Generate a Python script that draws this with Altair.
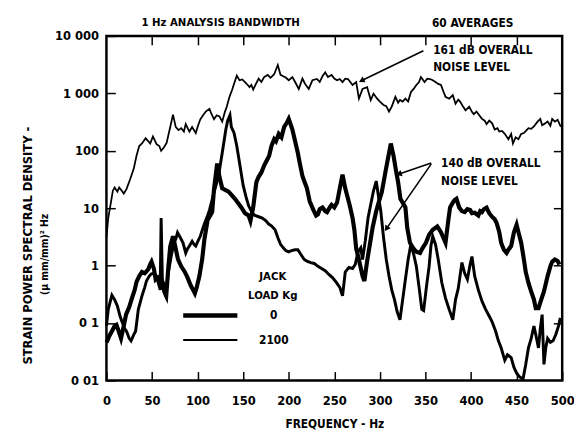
import math
import altair as alt
import pandas as pd

# ---------------- data ----------------
freq_161 = [0, 2, 4, 7, 9, 12, 14, 17, 19, 22, 26, 30, 33, 36, 39, 43, 46, 48, 51, 55,
            58, 60, 63, 66, 70, 73, 76, 79, 82, 85, 87, 91, 94, 98, 100, 103, 106, 109, 113, 115,
            118, 121, 124, 127, 130, 132, 135, 138, 141, 143, 146, 149, 152, 155, 157, 159, 161, 164, 167, 170,
            173, 177, 180, 184, 188, 191, 194, 197, 200, 204, 207, 211, 215, 218, 222, 226, 231, 234, 237, 240,
            243, 247, 250, 253, 256, 259, 262, 265, 270, 274, 277, 281, 286, 290, 293, 297, 300, 304, 307, 310,
            313, 317, 320, 322, 325, 328, 331, 334, 337, 340, 343, 345, 349, 352, 355, 358, 361, 364, 367, 370,
            372, 376, 380, 383, 386, 388, 391, 394, 398, 401, 403, 406, 409, 412, 415, 417, 420, 423, 426, 429,
            431, 434, 437, 441, 444, 446, 449, 452, 455, 458, 461, 463, 466, 469, 473, 476, 478, 480, 484, 487,
            489, 492, 495, 498, 500]
psd_161 = [3.1, 6.8, 10.3, 20, 23, 19.4, 23, 20, 18, 21.5, 32, 49, 82, 121, 134, 165, 146, 134, 178, 130,
           121, 100, 114, 137, 260, 427, 260, 229, 248, 216, 291, 216, 260, 204, 260, 353, 415, 482, 537, 446,
           353, 415, 396, 322, 476, 586, 868, 1165, 1633, 2039, 1691, 1750, 1575, 1400, 1282, 1400, 1165, 1458, 1807, 1575,
           1923, 2097, 1865, 2154, 3125, 2097, 1981, 1865, 1691, 1923, 1575, 1194, 1807, 1458, 1194, 1691, 1778, 1575, 1981, 2326,
           1923, 2097, 1807, 1691, 1778, 1575, 1807, 1778, 1400, 1575, 808, 1194, 1282, 766, 987, 808, 718, 628, 598, 482,
           586, 868, 688, 766, 718, 808, 718, 1046, 1194, 1400, 1575, 1923, 1575, 1807, 1778, 1691, 1575, 1458, 1400, 1046,
           868, 808, 928, 658, 778, 718, 598, 507, 586, 476, 433, 482, 415, 359, 335, 291, 335, 304, 235, 248,
           216, 222, 197, 159, 197, 134, 172, 159, 197, 204, 229, 248, 241, 266, 322, 359, 279, 291, 322, 272,
           359, 322, 347, 272, 260]

freq_0 = [0, 2, 6, 9, 12, 15, 17, 20, 22, 25, 27, 30, 32, 35, 39, 42, 44, 47, 49, 52,
          55, 57, 59, 60, 61.5, 63, 65, 68, 71, 74, 76, 78, 81, 84, 87, 89, 91, 94, 96, 98,
          101, 103, 106, 108, 111, 113, 118, 123, 127, 131, 133, 135.5, 137, 140, 143, 146, 150, 153, 156, 160,
          163, 167, 171, 175, 178, 181, 185, 188, 191, 194, 197, 200, 203, 207, 210, 213, 217, 220, 224, 228,
          232, 236, 240, 244, 248, 252, 256, 259, 262, 266, 270, 273, 276, 279, 281, 284, 287, 290, 293, 296,
          298, 301, 304, 307, 310, 313, 316, 319, 322, 325, 328, 331, 334, 337, 340, 343, 346, 348, 351, 354,
          356, 358, 361, 364, 368, 372, 376, 380, 383, 386, 390, 393, 396, 399, 401, 404, 408, 412, 416, 420,
          423, 427, 430, 433, 437, 440, 444, 447, 450, 453, 457, 460, 463, 466, 469, 471, 474, 476, 478, 480,
          482, 484, 487, 490, 493, 496, 498]
psd_0 = [0.089, 0.173, 0.305, 0.256, 0.198, 0.131, 0.106, 0.08, 0.072, 0.054, 0.049, 0.063, 0.072, 0.173, 0.297, 0.418, 0.546, 0.657, 0.712, 0.736,
         0.657, 0.498, 0.378, 6.75, 0.418, 0.354, 0.297, 0.775, 1.44, 2.5, 2.87, 3.76, 3.09, 2.5, 1.66, 1.97, 2.19, 2.65, 2.35, 2.19,
         2.8, 3.24, 4.57, 5.66, 7.47, 9.26, 18.7, 36.5, 91.4, 235, 335, 415, 260, 204, 121, 61.9, 24.9, 16, 11, 8.2,
         7.47, 7.1, 6.75, 6.03, 5.3, 4.93, 4.2, 3.09, 2.35, 2.04, 1.82, 1.74, 1.82, 1.89, 1.89, 1.59, 1.28, 1.2, 1.13, 1.09,
         0.97, 0.89, 0.815, 0.7, 0.62, 0.514, 0.418, 0.297, 0.775, 0.93, 0.89, 1.05, 1.74, 2.04, 1.28, 2.72, 6.75, 11.7, 20.1, 29.7,
         18, 8.9, 3.09, 1.28, 0.657, 0.378, 0.256, 0.156, 0.114, 0.256, 0.578, 1.28, 2.35, 1.59, 0.97, 0.418, 0.173, 0.165, 0.418, 0.97,
         2.19, 3.24, 2.35, 1.28, 0.498, 0.272, 0.173, 0.114, 0.256, 0.402, 1.13, 0.736, 0.578, 1.05, 1.44, 0.657, 0.378, 0.24, 0.173, 0.131,
         0.106, 0.072, 0.049, 0.037, 0.0225, 0.028, 0.025, 0.017, 0.0134, 0.0116, 0.0106, 0.019, 0.037, 0.054, 0.089, 0.063, 0.037, 0.08, 0.14, 0.019,
         0.037, 0.054, 0.046, 0.049, 0.063, 0.089, 0.123]

freq_2100 = [0, 1, 3, 6, 9, 11, 13, 16, 19, 21.5, 25, 28, 31, 33, 36, 39, 42, 46, 48, 49.5,
             52, 54, 56, 59, 62, 64, 65.6, 68, 70, 73, 75, 78.5, 82, 86, 89, 92.5, 95, 97, 99, 102,
             105, 107.5, 111, 116, 118, 121.5, 124, 127, 134, 141, 148, 152, 156, 158, 161, 164.5, 167, 170, 173, 176,
             178.5, 181, 184, 186, 189, 192, 195, 198, 200, 202, 204, 207, 210, 212, 215, 218, 220, 223, 227, 230,
             232, 234, 237, 240, 242, 245, 247, 250, 253, 256, 259, 262, 265, 267, 270, 272, 274, 277, 281, 283,
             286, 289, 292, 296, 299, 302, 306, 309, 312, 315, 318, 320, 322.5, 325, 328, 330, 333, 337, 340, 344,
             347, 350.5, 354, 358, 363, 367, 372, 375, 377, 380, 382, 384, 387, 390, 393, 396, 399, 401, 404, 408,
             410, 412, 414, 417, 420, 423, 426, 428, 431, 433, 436, 439, 441, 444, 447, 450, 452, 455, 458, 460,
             463, 466, 469, 471, 474, 477, 480, 484, 487, 489, 492, 495, 497]
psd_2100 = [0.046, 0.049, 0.059, 0.072, 0.089, 0.093, 0.076, 0.054, 0.089, 0.14, 0.19, 0.272, 0.378, 0.522, 0.657, 0.775, 0.736, 0.87, 1.05, 1.165,
            0.893, 0.578, 0.618, 0.657, 0.498, 0.337, 0.297, 0.971, 2.16, 3.24, 2.35, 1.28, 0.971, 0.775, 0.618, 0.45, 0.378, 0.329, 0.418, 0.657,
            1.28, 2.87, 6.24, 8.55, 21.5, 59.9, 35.2, 22.2, 19.4, 14.6, 10.3, 8.2, 7.47, 6.03, 10.3, 28.4, 35.2, 41.9, 55.3, 68.5,
            81.6, 121, 159, 146, 197, 172, 260, 310, 359, 291, 235, 146, 91.4, 61.9, 36.5, 27, 22.2, 13.2, 9.33, 7.47,
            7.83, 9.61, 10.3, 8.9, 8.55, 10.3, 11.4, 10.3, 12.5, 22.2, 38.5, 22.2, 14.6, 11, 6.75, 4.2, 1.97, 1.28, 0.657, 0.538,
            1.2, 2.35, 4.57, 8.9, 13.2, 18.7, 41.9, 75.1, 133.5, 81.6, 41.9, 28.4, 14.6, 12.5, 10.3, 4.57, 2.5, 1.97, 1.74, 1.66,
            2.04, 2.5, 3.46, 4.2, 4.79, 3.83, 2.5, 6.03, 10.3, 12.5, 13.9, 14.6, 10.3, 8.9, 8.55, 9.61, 9.33, 8.2, 8.33, 7.47,
            8.9, 8.55, 9.61, 10.2, 8.2, 7.1, 6.39, 5.59, 3.83, 2.5, 1.89, 1.66, 1.89, 2.19, 3.76, 5.15, 3.83, 2.5, 1.28, 0.775,
            0.498, 0.354, 0.256, 0.181, 0.181, 0.256, 0.354, 0.657, 0.971, 1.165, 1.28, 1.2, 1.05]

series_names = ["161 dB", "0", "2100"]
series_widths = [1.8, 4.2, 1.8]

x_ticks = [0, 50, 100, 150, 200, 250, 300, 350, 400, 450, 500]
y_ticks = [0.01, 0.1, 1, 10, 100, 1000, 10000]
y_tick_labels = ["0 01", "0 1", "1", "10", "100", "1 000", "10 000"]

# ---------------- table ----------------
rows = []
for name, fs, vs in zip(series_names, [freq_161, freq_0, freq_2100], [psd_161, psd_0, psd_2100]):
    for f, v in zip(fs, vs):
        rows.append({"series": name, "freq": f, "psd": v})
df = pd.DataFrame(rows)
one = pd.DataFrame({"a": [0]})

FONT = "Liberation Sans Narrow, DejaVu Sans Condensed, Liberation Sans, sans-serif"

label_expr = "".join(
    f"abs(log(datum.value)/LN10 - ({math.log10(v):g})) < 0.1 ? '{lab}' : "
    for v, lab in zip(y_ticks, y_tick_labels)
) + "''"

xscale = alt.Scale(domain=[0, 500], nice=False, zero=False)
yscale = alt.Scale(type="log", domain=[0.01, 10000], nice=False)

TK = 9
bottom_axis = alt.Axis(values=x_ticks, title="FREQUENCY - Hz", domain=False, grid=False,
                       tickSize=TK, offset=-TK, tickWidth=1.5, tickColor="black",
                       labelPadding=14, labelFont=FONT, labelFontSize=13, labelFontWeight="bold",
                       labelColor="black", labelFlush=False,
                       titleFont=FONT, titleFontSize=12, titleFontWeight="bold",
                       titleColor="black", titlePadding=12)
left_axis = alt.Axis(values=y_ticks, labelExpr=label_expr, title=None, domain=False, grid=False,
                     tickSize=TK, offset=-TK, tickWidth=1.5, tickColor="black",
                     labelPadding=8, labelFont=FONT, labelFontSize=13, labelFontWeight="bold",
                     labelColor="black", labelFlush=False)
top_axis = alt.Axis(orient="top", values=x_ticks[1:-1], labels=False, title=None, domain=False,
                    grid=False, tickSize=TK, offset=-TK, tickWidth=1.5, tickColor="black")
right_axis = alt.Axis(orient="right", values=y_ticks[1:-1], labels=False, title=None, domain=False,
                      grid=False, tickSize=TK, offset=-TK, tickWidth=1.5, tickColor="black")

lines = alt.Chart(df).mark_line(color="black", interpolate="linear").encode(
    x=alt.X("freq:Q", scale=xscale, axis=bottom_axis),
    y=alt.Y("psd:Q", scale=yscale, axis=left_axis),
    strokeWidth=alt.StrokeWidth("series:N", scale=alt.Scale(domain=series_names, range=series_widths), legend=None),
    detail="series:N",
)

frame_ticks = alt.Chart(df).mark_line(opacity=0).encode(
    x=alt.X("freq:Q", scale=xscale, axis=top_axis),
    y=alt.Y("psd:Q", scale=yscale, axis=right_axis),
    detail="series:N",
)


def label(text, x, y, size=12, align="left", angle=0):
    return alt.Chart(one).mark_text(
        text=text, font=FONT, fontSize=size, fontWeight="bold", align=align,
        baseline="middle", angle=angle, color="black"
    ).encode(x=alt.value(x), y=alt.value(y))


def arrow(x1, y1, x2, y2):
    dx, dy = x2 - x1, y2 - y1
    ang = math.degrees(math.atan2(dx, -dy)) % 360
    shaft = alt.Chart(one).mark_rule(color="black", strokeWidth=1.6).encode(
        x=alt.value(x1), y=alt.value(y1), x2=alt.value(x2), y2=alt.value(y2))
    head = alt.Chart(one).mark_point(shape="triangle", filled=True, color="black", size=45,
                                     angle=ang, opacity=1).encode(x=alt.value(x2), y=alt.value(y2))
    return shaft + head


annotations = [
    label("1 Hz ANALYSIS BANDWIDTH", 116, -13, 11.5, "center"),
    label("60 AVERAGES", 372, -13, 12, "center"),
    label("161 dB OVERALL", 332, 14, 12),
    label("NOISE LEVEL", 332, 32, 12),
    label("140 dB OVERALL", 340, 129, 12),
    label("NOISE LEVEL", 340, 147, 12),
    label("JACK", 169, 245, 11.5, "center"),
    label("LOAD Kg", 169, 264, 11.5, "center"),
    label("0", 170, 284, 12, "center"),
    label("2100", 170, 309, 12, "center"),
    label("STRAIN POWER SPECTRAL DENSITY -", -80, 213, 13, "center", 270),
    label("(μ mm/mm)² Hz", -62, 222, 10.5, "center", 270),
    alt.Chart(one).mark_rule(color="black", strokeWidth=4.5).encode(
        x=alt.value(78), x2=alt.value(133), y=alt.value(284)),
    alt.Chart(one).mark_rule(color="black", strokeWidth=2).encode(
        x=alt.value(78), x2=alt.value(133), y=alt.value(309)),
    arrow(322, 15, 260, 45),
    arrow(330, 129, 298, 140),
    arrow(330, 130, 285, 195),
]

chart = alt.layer(lines, frame_ticks, *annotations).resolve_axis(
    x="independent", y="independent"
).properties(
    width=463, height=350,
    autosize=alt.AutoSizeParams(type="none"),
    padding={"left": 100, "top": 25, "right": 12, "bottom": 50},
).configure_view(stroke="black", strokeWidth=2.5)

chart.save("out.html", embed_options={"renderer": "svg", "actions": False})
